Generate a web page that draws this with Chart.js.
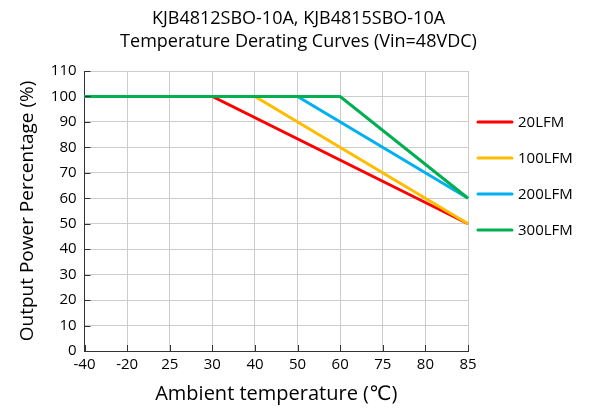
<!DOCTYPE html>
<html lang="en">
<head>
  <meta charset="UTF-8"/>
  <title>Temperature Derating Curves</title>
  <script src="https://cdn.jsdelivr.net/npm/chart.js"></script>
  <style>
    html, body { margin: 0; padding: 0; background: #ffffff; }
    .chart-container { position: relative; width: 589px; height: 410px; }
  </style>
</head>
<body>
<div class="chart-container">
  <canvas id="deratingChart"></canvas>
</div>

<script>
const temps = ['-40', '-20', '25', '30', '40', '50', '60', '75', '80', '85'];
const yTicks = [0, 10, 20, 30, 40, 50, 60, 70, 80, 90, 100, 110];

// each curve: flat at 100% up to a knee, then straight down to 85
const lfm20 = [{ x: '-40', y: 100 }, { x: '30', y: 100 }, { x: '85', y: 50 }];
const lfm100 = [{ x: '-40', y: 100 }, { x: '40', y: 100 }, { x: '85', y: 50 }];
const lfm200 = [{ x: '-40', y: 100 }, { x: '50', y: 100 }, { x: '85', y: 60 }];
const lfm300 = [{ x: '-40', y: 100 }, { x: '60', y: 100 }, { x: '85', y: 60 }];

const font = "'Open Sans', 'DejaVu Sans', sans-serif";

// small dark tick marks drawn inside the plot, as in the original
const innerTicks = {
  id: 'innerTicks',
  afterDatasetsDraw(chart) {
    const { ctx, chartArea, scales } = chart;
    ctx.save();
    ctx.strokeStyle = '#333';
    ctx.lineWidth = 1;
    scales.x.ticks.forEach((t, i) => {
      const px = Math.round(scales.x.getPixelForTick(i)) + 0.5;
      ctx.beginPath();
      ctx.moveTo(px, chartArea.bottom);
      ctx.lineTo(px, chartArea.bottom - 6);
      ctx.stroke();
    });
    scales.y.ticks.forEach((t, i) => {
      const py = Math.round(scales.y.getPixelForTick(i)) + 0.5;
      ctx.beginPath();
      ctx.moveTo(chartArea.left, py);
      ctx.lineTo(chartArea.left + 6, py);
      ctx.stroke();
    });
    ctx.restore();
  }
};

// legend to the right of the plot, below the title
const sideLegend = {
  id: 'sideLegend',
  afterDraw(chart) {
    const { ctx, chartArea } = chart;
    const x0 = chartArea.right + 10;
    ctx.save();
    ctx.font = "15px " + font;
    ctx.textBaseline = 'middle';
    ctx.fillStyle = '#000';
    chart.data.datasets.forEach((ds, i) => {
      const y = chartArea.top + 51 + i * 36;
      ctx.strokeStyle = ds.borderColor;
      ctx.lineWidth = 3;
      ctx.lineCap = 'round';
      ctx.beginPath();
      ctx.moveTo(x0, y);
      ctx.lineTo(x0 + 34, y);
      ctx.stroke();
      ctx.fillText(ds.label, x0 + 40, y + 1);
    });
    ctx.restore();
  }
};

const mk = (label, data, color, order) => ({
  label: label,
  data: data,
  borderColor: color,
  backgroundColor: color,
  borderWidth: 3,
  pointRadius: 0,
  fill: false,
  tension: 0,
  order: order
});

new Chart(document.getElementById('deratingChart'), {
  type: 'line',
  data: {
    labels: temps,
    datasets: [
      mk('20LFM', lfm20, '#ff0000', 4),
      mk('100LFM', lfm100, '#ffbc00', 3),
      mk('200LFM', lfm200, '#00b0f0', 2),
      mk('300LFM', lfm300, '#00b050', 1)
    ]
  },
  options: {
    responsive: true,
    maintainAspectRatio: false,
    animation: false,
    layout: { padding: { top: 8, right: 4, left: 12, bottom: 0 } },
    plugins: {
      title: {
        display: true,
        text: ['KJB4812SBO-10A, KJB4815SBO-10A', 'Temperature Derating Curves (Vin=48VDC)'],
        color: '#000',
        font: { family: font, size: 18, weight: 'normal', lineHeight: 1.25 },
        padding: { top: 0, bottom: 18 }
      },
      legend: { display: false },
      tooltip: { enabled: false }
    },
    scales: {
      x: {
        type: 'category',
        offset: false,
        grid: { color: '#cccccc', drawTicks: false },
        border: { color: '#333', width: 1 },
        ticks: { color: '#000', font: { family: font, size: 15 }, padding: 5, maxRotation: 0, autoSkip: false },
        title: {
          display: true,
          text: 'Ambient temperature (℃)',
          color: '#000',
          font: { family: font, size: 20 },
          padding: { top: 3 }
        }
      },
      y: {
        min: 0,
        max: 110,
        afterBuildTicks(scale) { scale.ticks = yTicks.map(v => ({ value: v })); },
        grid: { color: '#cccccc', drawTicks: false },
        border: { color: '#333', width: 1 },
        ticks: { color: '#000', font: { family: font, size: 15 }, padding: 8 },
        title: {
          display: true,
          text: 'Output Power Percentage (%)',
          color: '#000',
          font: { family: font, size: 19 },
          padding: { bottom: 4 }
        }
      },
      // empty right axis that only reserves room for the legend
      yLegend: {
        position: 'right',
        min: 0,
        max: 110,
        grid: { drawOnChartArea: false, drawTicks: false },
        border: { display: false },
        ticks: { display: false },
        afterFit(scale) { scale.width = 117; }
      }
    }
  },
  plugins: [innerTicks, sideLegend]
});
</script>
</body>
</html>
